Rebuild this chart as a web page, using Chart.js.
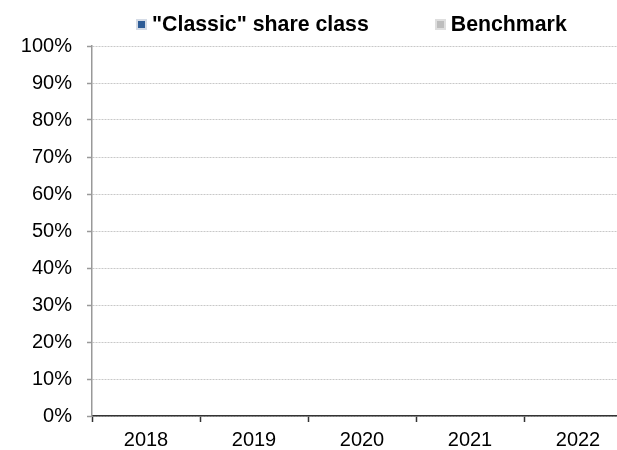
<!DOCTYPE html>
<html lang="en">
<head>
    <meta charset="UTF-8">
    <title>Share class vs benchmark</title>
    <script src="https://cdn.jsdelivr.net/npm/chart.js"></script>
    <style>
        html, body {
            margin: 0;
            padding: 0;
            background: #fff;
            overflow: hidden;
            font-family: Arial, "Liberation Sans", sans-serif;
        }
        .chart-wrap {
            position: relative;
            width: 640px;
            height: 450px;
        }
        #legend {
            position: absolute;
            left: 136px;
            top: 12px;
            display: flex;
            align-items: center;
            font-weight: bold;
            font-size: 21.3px;
            color: #000;
            white-space: nowrap;
        }
        #legend .item {
            display: flex;
            align-items: center;
        }
        #legend .item + .item {
            margin-left: 66px;
        }
        #legend .box {
            width: 7px;
            height: 7px;
            border: 2px solid;
            margin-right: 5px;
        }
    </style>
</head>
<body>
    <div class="chart-wrap">
        <canvas id="perfChart"></canvas>
        <div id="legend"></div>
    </div>

    <script>
        // years shown on the x axis
        const years = ['2018', '2019', '2020', '2021', '2022'];
        // no performance figures are shown in the chart
        const shareClassValues = [null, null, null, null, null];
        const benchmarkValues = [null, null, null, null, null];
        const seriesNames = ['"Classic" share class', 'Benchmark'];

        const fontFamily = 'Arial, "Liberation Sans", sans-serif';

        // build the legend as html from the datasets
        const htmlLegend = {
            id: 'htmlLegend',
            afterUpdate(chart) {
                const box = document.getElementById('legend');
                box.innerHTML = '';
                chart.data.datasets.forEach(function(ds) {
                    const item = document.createElement('div');
                    item.className = 'item';
                    const swatch = document.createElement('span');
                    swatch.className = 'box';
                    swatch.style.background = ds.backgroundColor;
                    swatch.style.borderColor = ds.legendBorder;
                    const label = document.createElement('span');
                    label.textContent = ds.label;
                    item.appendChild(swatch);
                    item.appendChild(label);
                    box.appendChild(item);
                });
            }
        };

        const ctx = document.getElementById('perfChart').getContext('2d');
        new Chart(ctx, {
            type: 'bar',
            data: {
                labels: years,
                datasets: [{
                    label: seriesNames[0],
                    data: shareClassValues,
                    backgroundColor: '#2f5d97',
                    legendBorder: '#d4dbe6'
                }, {
                    label: seriesNames[1],
                    data: benchmarkValues,
                    backgroundColor: '#bdbdbd',
                    legendBorder: '#dedede'
                }]
            },
            options: {
                responsive: true,
                maintainAspectRatio: false,
                animation: false,
                layout: {
                    padding: { top: 46, right: 8, left: 0, bottom: 0 }
                },
                plugins: {
                    legend: { display: false },
                    tooltip: { enabled: false }
                },
                scales: {
                    x: {
                        afterFit: function(scale) { scale.height = 34; },
                        grid: {
                            offset: true,
                            drawOnChartArea: false,
                            drawTicks: true,
                            tickLength: 6,
                            tickColor: '#333',
                            tickWidth: 1.5
                        },
                        border: { color: '#333', width: 1.5 },
                        ticks: {
                            padding: 6,
                            color: '#000',
                            font: { family: fontFamily, size: 20 }
                        }
                    },
                    y: {
                        min: 0,
                        max: 100,
                        afterFit: function(scale) { scale.width = 92; },
                        grid: {
                            color: '#c8c8c8',
                            lineWidth: 1,
                            tickLength: 5,
                            tickColor: '#999',
                            tickWidth: 1.5
                        },
                        border: { color: '#999', width: 1.5, dash: [2, 1] },
                        ticks: {
                            stepSize: 10,
                            padding: 15,
                            color: '#000',
                            font: { family: fontFamily, size: 20 },
                            callback: function(v) { return v + '%'; }
                        }
                    }
                }
            },
            plugins: [htmlLegend]
        });
    </script>
</body>
</html>
